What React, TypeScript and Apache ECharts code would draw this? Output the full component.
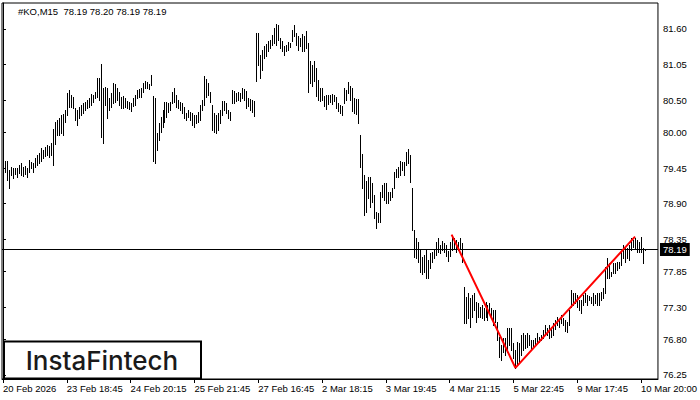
import React, { useEffect, useRef } from "react";
import * as echarts from "echarts";

const symbolLabel = "#KO,M15";
const lastQuote = [78.19, 78.2, 78.19, 78.19];
const currentPrice = 78.19;

const highs = [
  79.56, 79.56, 79.56, 79.42, 79.47, 79.45, 79.45, 79.45, 79.5, 79.53,
  79.47, 79.48, 79.45, 79.57, 79.54, 79.53, 79.61, 79.65, 79.68, 79.76,
  79.73, 79.78, 79.81, 79.79, 79.84, 80.05, 80.16, 80.19, 80.22, 80.27,
  80.29, 80.35, 80.61, 80.66, 80.58, 80.55, 80.38, 80.35, 80.39, 80.43,
  80.46, 80.47, 80.5, 80.53, 80.6, 80.58, 80.63, 80.84, 80.84, 81.06,
  80.69, 80.7, 80.69, 80.53, 80.61, 80.77, 80.75, 80.69, 80.63, 80.55,
  80.56, 80.53, 80.49, 80.47, 80.46, 80.53, 80.58, 80.66, 80.67, 80.69,
  80.77, 80.8, 80.78, 80.75, 80.89, 80.56, 80.53, 79.99, 80.15, 80.24,
  80.35, 80.47, 80.47, 80.46, 80.47, 80.63, 80.69, 80.58, 80.5, 80.47,
  80.46, 80.39, 80.3, 80.35, 80.32, 80.3, 80.27, 80.27, 80.32, 80.43,
  80.5, 80.87, 80.83, 80.77, 80.63, 80.43, 80.3, 80.27, 80.3, 80.35,
  80.49, 80.49, 80.46, 80.35, 80.32, 80.66, 80.64, 80.61, 80.63, 80.61,
  80.69, 80.67, 80.64, 80.53, 80.52, 80.5, 80.49, 81.54, 81.54, 81.2,
  81.28, 81.34, 81.37, 81.41, 81.43, 81.51, 81.62, 81.68, 81.66, 81.46,
  81.41, 81.34, 81.35, 81.4, 81.38, 81.59, 81.66, 81.54, 81.49, 81.46,
  81.52, 81.49, 81.57, 81.38, 81.11, 81.04, 81.11, 81.0, 80.81, 80.69,
  80.69, 80.56, 80.58, 80.58, 80.58, 80.6, 80.58, 80.55, 80.46, 80.43,
  80.41, 80.69, 80.66, 80.78, 80.72, 80.69, 80.53, 80.52, 80.52, 79.96,
  79.67, 79.34, 79.25, 79.31, 79.31, 79.22, 79.03, 78.77, 78.75, 79.08,
  79.19, 79.22, 79.22, 79.08, 79.08, 79.14, 79.39, 79.44, 79.47, 79.56,
  79.54, 79.54, 79.7, 79.74, 79.65, 79.14, 78.49, 78.37, 78.31, 78.2,
  78.07, 78.11, 78.18, 78.03, 78.14, 78.15, 78.2, 78.31, 78.37, 78.26,
  78.32, 78.29, 78.26, 78.17, 78.31, 78.42, 78.37, 78.34, 78.31, 78.37,
  78.29, 77.61, 77.46, 77.52, 77.44, 77.49, 77.52, 77.38, 77.36, 77.3,
  77.33, 77.29, 77.38, 77.33, 77.36, 77.29, 77.26, 77.26, 77.07, 76.84,
  76.71, 76.82, 76.82, 76.98, 76.98, 76.98, 76.74, 76.64, 76.76, 76.74,
  76.87, 76.9, 76.87, 76.9, 76.87, 76.79, 76.79, 76.82, 76.9, 76.84,
  76.87, 76.95, 77.02, 76.98, 77.02, 76.99, 77.05, 77.1, 77.15, 77.1,
  77.18, 77.13, 77.1, 77.07, 77.26, 77.56, 77.52, 77.52, 77.49, 77.41,
  77.41, 77.49, 77.52, 77.49, 77.47, 77.46, 77.52, 77.49, 77.52, 77.52,
  77.53, 77.6, 77.92, 78.06, 77.98, 77.84, 77.98, 77.98, 78.0, 78.0,
  78.15, 78.26, 78.21, 78.21, 78.26, 78.37, 78.34, 78.37, 78.34, 78.31,
  78.38, 78.21, 78.2,
];

const lows = [
  79.31, 79.39, 79.27, 79.14, 79.34, 79.3, 79.36, 79.31, 79.37, 79.34,
  79.33, 79.36, 79.31, 79.39, 79.45, 79.39, 79.47, 79.5, 79.53, 79.56,
  79.61, 79.64, 79.65, 79.62, 79.65, 79.5, 79.82, 79.96, 79.96, 79.99,
  79.96, 80.16, 80.27, 80.39, 80.39, 80.38, 80.19, 80.12, 80.22, 80.27,
  80.3, 80.35, 80.38, 80.39, 80.43, 80.47, 80.53, 80.55, 80.5, 79.93,
  79.84, 80.43, 80.22, 80.35, 80.39, 80.46, 80.47, 80.5, 80.43, 80.38,
  80.38, 80.39, 80.38, 80.36, 80.33, 80.41, 80.43, 80.53, 80.55, 80.55,
  80.63, 80.69, 80.69, 80.67, 80.73, 79.56, 79.53, 79.73, 79.88, 80.01,
  80.09, 80.16, 80.24, 80.32, 80.35, 80.46, 80.47, 80.39, 80.38, 80.35,
  80.3, 80.22, 80.19, 80.24, 80.19, 80.12, 80.09, 80.15, 80.16, 80.19,
  80.35, 80.43, 80.55, 80.58, 80.47, 80.04, 80.01, 79.99, 80.04, 80.15,
  80.27, 80.35, 80.3, 80.22, 80.19, 80.46, 80.46, 80.49, 80.5, 80.49,
  80.53, 80.5, 80.38, 80.41, 80.35, 80.32, 80.25, 80.8, 81.04, 80.84,
  80.97, 81.15, 81.18, 81.26, 81.31, 81.35, 81.38, 81.35, 81.43, 81.31,
  81.26, 81.2, 81.26, 81.28, 81.32, 81.41, 81.49, 81.35, 81.28, 81.34,
  81.26, 81.26, 81.31, 80.63, 80.77, 80.72, 80.8, 80.56, 80.5, 80.49,
  80.5, 80.41, 80.36, 80.44, 80.47, 80.44, 80.49, 80.38, 80.33, 80.3,
  80.27, 80.46, 80.5, 80.61, 80.5, 80.33, 80.3, 80.29, 80.15, 79.47,
  79.14, 78.72, 78.77, 78.99, 78.85, 78.92, 78.68, 78.52, 78.62, 78.62,
  79.0, 78.96, 78.91, 78.91, 78.96, 79.0, 79.14, 79.31, 79.31, 79.34,
  79.42, 79.34, 79.5, 79.53, 79.23, 78.49, 78.07, 78.06, 78.0, 77.84,
  77.81, 77.84, 77.75, 77.75, 77.9, 78.0, 78.06, 78.11, 78.15, 78.14,
  78.18, 78.15, 78.09, 78.01, 78.09, 78.18, 78.21, 78.15, 78.18, 78.21,
  78.0, 77.05, 77.05, 77.13, 76.99, 77.15, 77.26, 77.07, 77.15, 77.15,
  77.13, 77.1, 77.15, 77.1, 77.21, 77.13, 77.02, 77.07, 76.79, 76.53,
  76.48, 76.61, 76.56, 76.61, 76.71, 76.64, 76.51, 76.36, 76.4, 76.45,
  76.56, 76.64, 76.67, 76.68, 76.71, 76.64, 76.68, 76.73, 76.74, 76.76,
  76.79, 76.82, 76.87, 76.87, 76.82, 76.84, 76.87, 76.96, 77.02, 76.99,
  77.05, 77.02, 76.93, 76.91, 77.02, 77.3, 77.33, 77.36, 77.3, 77.26,
  77.21, 77.33, 77.38, 77.33, 77.41, 77.36, 77.33, 77.36, 77.33, 77.33,
  77.41, 77.44, 77.52, 77.75, 77.75, 77.78, 77.83, 77.83, 77.87, 77.9,
  77.95, 78.06, 78.0, 78.06, 78.03, 78.18, 78.23, 78.21, 78.15, 78.15,
  78.15, 77.98, 78.19,
];

const xLabelIndex = [0, 32, 64, 96, 128, 160, 192, 224, 256, 288, 320];
const xLabels = [
  "20 Feb 2026",
  "23 Feb 18:45",
  "24 Feb 20:15",
  "25 Feb 21:45",
  "27 Feb 16:45",
  "2 Mar 18:15",
  "3 Mar 19:45",
  "4 Mar 21:15",
  "5 Mar 22:45",
  "9 Mar 17:45",
  "10 Mar 20:00",
];
const yTicks = [76.25, 76.8, 77.3, 77.85, 78.35, 78.9, 79.45, 80.0, 80.5, 81.05, 81.6];

const patternIndex = [225, 257, 317];
const patternPrice = [78.42, 76.36, 78.39];

const FONT = "Liberation Sans";

export default function App() {
  const ref = useRef<HTMLDivElement>(null);
  useEffect(() => {
    if (!ref.current) return;
    const chart = echarts.init(ref.current, undefined, { renderer: "svg" });
    const barData = highs.map((h, i) => [i, lows[i], h]);
    const option: any = {
      animation: false,
      backgroundColor: "#fff",
      title: {
        text: symbolLabel + "  " + lastQuote.map((v) => v.toFixed(2)).join(" "),
        left: 18,
        top: 6,
        padding: 0,
        textStyle: { fontFamily: FONT, fontSize: 9.5, fontWeight: "normal", color: "#000" },
      },
      grid: {
        left: 2,
        top: 3,
        width: 658,
        height: 376,
        show: true,
        borderColor: "#000",
        borderWidth: 1,
        backgroundColor: "#fff",
      },
      xAxis: {
        type: "value",
        min: -0.5,
        max: 328.5,
        axisLine: { show: true, lineStyle: { color: "#000", width: 1 } },
        axisTick: { show: true, customValues: xLabelIndex, length: 4, lineStyle: { color: "#000" } },
        axisLabel: {
          customValues: xLabelIndex,
          formatter: (v: number) => xLabels[xLabelIndex.indexOf(v)] ?? "",
          align: "left",
          margin: 4,
          color: "#000",
          fontFamily: FONT,
          fontSize: 9.5,
        },
        splitLine: { show: false },
      },
      yAxis: {
        type: "value",
        position: "right",
        min: 76.1875,
        max: 82.002,
        scale: true,
        axisLine: { show: true, lineStyle: { color: "#000", width: 1 } },
        axisTick: { show: true, customValues: yTicks, length: 3, lineStyle: { color: "#000" } },
        axisLabel: {
          customValues: yTicks,
          formatter: (v: number) => v.toFixed(2),
          margin: 5,
          color: "#000",
          fontFamily: FONT,
          fontSize: 9.5,
        },
        splitLine: { show: false },
      },
      series: [
        {
          type: "custom",
          data: barData,
          encode: { x: 0, y: [1, 2] },
          clip: true,
          renderItem: (params: any, api: any) => {
            const x = api.value(0);
            const lo = api.value(1);
            const hi = api.value(2);
            const top = api.coord([x, hi]);
            const bot = api.coord([x, lo]);
            const px = Math.round(top[0]);
            const y0 = Math.round(top[1]);
            const y1 = Math.round(bot[1]);
            return {
              type: "rect",
              shape: { x: px, y: y0, width: 1, height: Math.max(1, y1 - y0 + 1) },
              style: { fill: "#000" },
            };
          },
        },
        {
          type: "line",
          data: patternIndex.map((v, i) => [v, patternPrice[i]]),
          symbol: "none",
          lineStyle: { color: "#ff0000", width: 2 },
          z: 5,
          markLine: {
            silent: true,
            symbol: ["none", "none"],
            lineStyle: { color: "#000", width: 1, type: "solid" },
            label: {
              show: true,
              position: "end",
              formatter: currentPrice.toFixed(2),
              color: "#fff",
              backgroundColor: "#000",
              padding: [2, 3, 1, 3],
              distance: 2,
              fontFamily: FONT,
              fontSize: 9.5,
            },
            data: [{ yAxis: currentPrice }],
          },
        },
      ],
      graphic: [
        {
          type: "group",
          z: 100,
          children: [
            {
              type: "rect",
              shape: { x: 4, y: 341.5, width: 197, height: 37 },
              style: { fill: "#fff", stroke: "#000", lineWidth: 2 },
            },
            {
              type: "text",
              x: 102,
              y: 360,
              style: {
                text: "InstaFintech",
                fill: "#1a1a1a",
                font: "500 26px Inter",
                align: "center",
                verticalAlign: "middle",
              },
            },
          ],
        },
      ],
    };
    chart.setOption(option);
    return () => chart.dispose();
  }, []);
  return (
    <div
      ref={ref}
      style={{ position: "fixed", left: 0, top: 0, width: 700, height: 400, background: "#fff" }}
    />
  );
}
